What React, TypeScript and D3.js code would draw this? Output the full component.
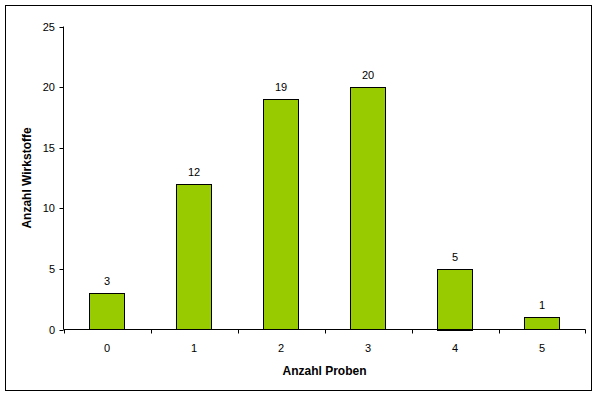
import React from "react";
import * as d3 from "d3";

const categories = ["0", "1", "2", "3", "4", "5"];
const values = [3, 12, 19, 20, 5, 1];
const yTicks = [0, 5, 10, 15, 20, 25];
const xTitle = "Anzahl Proben";
const yTitle = "Anzahl Wirkstoffe";

export default function App() {
  const W = 600, H = 398;
  const left = 63.5, right = 585.5, top = 26.5, bottom = 329.5;
  const x = d3.scaleBand<string>().domain(categories).range([left, right]).paddingInner(0.6).paddingOuter(0.3);
  const xb = d3.scaleBand<string>().domain(categories).range([left, right]);
  const y = d3.scaleLinear().domain([0, 25]).range([bottom, top]);
  const font = "Arial, 'Liberation Sans', sans-serif";
  return (
    <svg width={W} height={H} style={{ position: "absolute", left: 0, top: 0 }} fontFamily={font}>
      <rect x={0} y={0} width={W} height={H} fill="#fff" />
      <rect x={5.5} y={5.5} width={586} height={385} fill="none" stroke="#000" strokeWidth={1} />
      {categories.map((c, i) => (
        <g key={c}>
          <rect x={Math.floor(x(c)!) + 0.5} y={Math.round(y(values[i])) + 0.5} width={Math.round(x.bandwidth())} height={Math.round(bottom - y(values[i]))} fill="#99CC00" stroke="#000" strokeWidth={1} />
          <text x={x(c)! + x.bandwidth() / 2} y={y(values[i]) - 8} textAnchor="middle" fontSize={11} fill="#000">{values[i]}</text>
          <text x={xb(c)! + xb.bandwidth() / 2} y={352} textAnchor="middle" fontSize={11} fill="#000">{c}</text>
        </g>
      ))}
      <line x1={left} x2={left} y1={top} y2={bottom} stroke="#000" />
      <line x1={left} x2={right} y1={bottom} y2={bottom} stroke="#000" />
      {yTicks.map(t => (
        <g key={t}>
          <line x1={left - 4} x2={left} y1={Math.round(y(t)) + 0.5} y2={Math.round(y(t)) + 0.5} stroke="#000" />
          <text x={55} y={y(t) + 4} textAnchor="end" fontSize={11} fill="#000">{t}</text>
        </g>
      ))}
      {categories.map((c) => (
        <line key={"t" + c} x1={Math.round(xb(c)!) + 0.5} x2={Math.round(xb(c)!) + 0.5} y1={bottom} y2={bottom + 4} stroke="#000" />
      ))}
      <line x1={right} x2={right} y1={bottom} y2={bottom + 4} stroke="#000" />
      <text x={(left + right) / 2} y={375} textAnchor="middle" fontSize={12} fontWeight="bold" fill="#000">{xTitle}</text>
      <text transform={`translate(31,${(top + bottom) / 2}) rotate(-90)`} textAnchor="middle" fontSize={12} fontWeight="bold" fill="#000">{yTitle}</text>
    </svg>
  );
}
